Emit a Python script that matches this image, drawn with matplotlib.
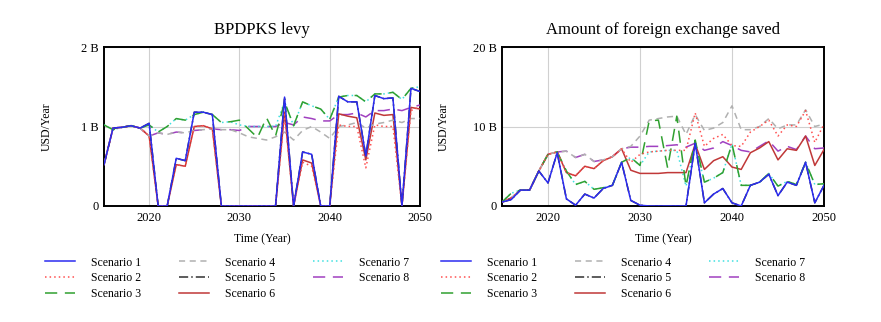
import matplotlib

matplotlib.use("Agg")
import matplotlib.pyplot as plt
import numpy as np

years = np.arange(2015, 2051)

# BPDPKS levy (billion USD/year)
levy_s1 = [0.52, 0.98, 0.99, 1.01, 0.98, 1.04, 0, 0, 0.60, 0.57, 1.18, 1.18, 1.15, 0, 0, 0,
           0, 0, 0, 0, 1.37, 0, 0.68, 0.65, 0, 0, 1.38, 1.31, 1.31, 0.63, 1.39, 1.35, 1.36, 0, 1.48, 1.44]
levy_s2 = [0.52, 0.98, 0.99, 1.01, 0.98, 0.88, 0, 0, 0.52, 0.50, 1.00, 1.01, 0.97, 0, 0, 0,
           0, 0, 0, 0, 1.15, 0, 0.55, 0.50, 0, 0, 1.02, 1.00, 1.00, 0.48, 1.02, 1.00, 1.00, 0, 1.20, 1.25]
levy_s3 = [1.02, 0.96, 0.99, 1.01, 0.98, 1.02, 0.93, 1.00, 1.10, 1.08, 1.15, 1.18, 1.15, 1.05, 1.06, 1.08,
           0.97, 0.86, 1.11, 0.88, 1.31, 1.01, 1.31, 1.26, 1.22, 1.09, 1.37, 1.39, 1.39, 1.31, 1.41, 1.41, 1.43, 1.34, 1.48, 1.50]
levy_s4 = [0.52, 0.98, 0.99, 1.01, 0.98, 0.88, 0.92, 0.90, 0.93, 0.92, 0.95, 0.96, 0.97, 0.96, 0.96, 0.92,
           0.87, 0.85, 0.83, 0.87, 0.93, 0.83, 0.95, 1.00, 0.93, 0.85, 1.00, 1.02, 1.05, 0.98, 1.03, 1.05, 1.08, 1.05, 1.10, 1.10]
levy_s5 = levy_s1
levy_s6 = [0.52, 0.98, 0.99, 1.01, 0.98, 0.88, 0, 0, 0.52, 0.50, 1.00, 1.01, 0.97, 0, 0, 0,
           0, 0, 0, 0, 1.18, 0, 0.58, 0.54, 0, 0, 1.16, 1.13, 1.11, 0.58, 1.17, 1.14, 1.15, 0, 1.24, 1.22]
levy_s7 = [1.02, 0.96, 0.99, 1.01, 0.98, 1.02, 0.93, 1.00, 1.10, 1.08, 1.15, 1.18, 1.15, 1.05, 1.06, 1.02,
           1.00, 1.00, 1.00, 1.00, 1.31, 1.01, 1.31, 1.26, 1.22, 1.09, 1.37, 1.39, 1.39, 1.31, 1.41, 1.41, 1.43, 1.34, 1.48, 1.50]
levy_s8 = [0.52, 0.98, 0.99, 1.01, 0.98, 0.88, 0.92, 0.90, 0.93, 0.92, 0.95, 0.96, 0.97, 0.96, 0.96, 0.95,
           1.00, 1.00, 1.00, 1.00, 1.05, 1.02, 1.12, 1.10, 1.07, 1.07, 1.15, 1.15, 1.17, 1.12, 1.20, 1.20, 1.22, 1.20, 1.24, 1.27]

# Amount of foreign exchange saved (billion USD/year)
fx_s1 = [0.5, 0.8, 2.0, 2.0, 4.4, 2.9, 6.7, 0.9, 0.1, 1.5, 1.0, 2.2, 2.6, 5.5, 0.7, 0.1,
         0, 0, 0, 0, 0, 7.9, 0.4, 1.5, 2.2, 0.4, 0, 2.6, 3.0, 4.0, 1.3, 3.0, 2.6, 5.5, 0.4, 2.6]
fx_s2 = [0.5, 1.0, 2.0, 2.0, 4.4, 6.5, 6.8, 4.2, 3.8, 5.0, 4.7, 5.7, 6.2, 7.2, 5.5, 6.5,
         6.8, 6.9, 7.0, 7.0, 7.0, 11.7, 7.5, 8.5, 9.0, 7.6, 7.5, 9.3, 10.0, 10.8, 8.8, 10.2, 10.0, 12.0, 8.0, 10.3]
fx_s3 = [0.5, 1.6, 2.0, 2.0, 4.4, 6.5, 6.8, 4.4, 2.7, 3.1, 2.1, 2.3, 2.6, 5.5, 6.1, 5.1,
         10.7, 10.8, 4.8, 11.3, 2.5, 8.3, 3.0, 3.5, 4.2, 7.8, 2.6, 2.6, 3.0, 4.1, 2.5, 3.1, 2.7, 5.5, 2.7, 2.8]
fx_s4 = [0.5, 1.0, 2.0, 2.0, 4.4, 6.5, 6.8, 6.9, 6.1, 6.5, 5.6, 5.8, 6.2, 7.2, 7.5, 8.8,
         10.8, 11.0, 11.2, 11.3, 9.0, 11.5, 9.5, 9.8, 10.5, 12.6, 9.6, 9.6, 10.0, 11.0, 9.7, 10.2, 10.2, 12.1, 10.0, 10.3]
fx_s5 = fx_s1
fx_s6 = [0.5, 1.0, 2.0, 2.0, 4.4, 6.5, 6.8, 4.2, 3.8, 5.0, 4.7, 5.7, 6.2, 7.2, 4.5, 4.1,
         4.1, 4.1, 4.2, 4.2, 4.2, 7.8, 4.6, 5.7, 6.2, 4.9, 4.6, 6.7, 7.3, 8.1, 5.8, 7.2, 7.0, 8.8, 5.1, 7.1]
fx_s7 = [0.5, 1.6, 2.0, 2.0, 4.4, 6.5, 6.8, 4.4, 2.7, 3.1, 2.1, 2.3, 2.6, 5.5, 6.1, 5.1,
         6.8, 6.9, 7.0, 7.0, 2.5, 7.8, 3.0, 3.5, 4.2, 7.8, 2.6, 2.6, 3.0, 4.1, 2.5, 3.1, 2.7, 5.5, 2.7, 2.8]
fx_s8 = [0.5, 1.0, 2.0, 2.0, 4.4, 6.5, 6.8, 6.9, 6.1, 6.5, 5.6, 5.8, 6.2, 7.2, 7.4, 7.4,
         7.5, 7.5, 7.6, 7.7, 7.4, 7.9, 7.0, 7.3, 8.1, 7.6, 7.0, 6.8, 7.5, 8.2, 6.9, 7.5, 7.1, 8.8, 7.2, 7.3]

scenario_names = [f"Scenario {i}" for i in range(1, 9)]
levy = [levy_s1, levy_s2, levy_s3, levy_s4, levy_s5, levy_s6, levy_s7, levy_s8]
fx = [fx_s1, fx_s2, fx_s3, fx_s4, fx_s5, fx_s6, fx_s7, fx_s8]

STYLES = [
    dict(color="#2b2bf0", linestyle="-"),
    dict(color="#ff5050", linestyle=(0, (1, 2))),
    dict(color="#30a030", linestyle=(0, (8, 5))),
    dict(color="#b0b0b0", linestyle=(0, (4, 3))),
    dict(color="#303030", linestyle=(0, (6, 2, 1, 2))),
    dict(color="#c03838", linestyle="-"),
    dict(color="#40e0e0", linestyle=(0, (1, 2))),
    dict(color="#a040c0", linestyle=(0, (8, 5))),
]

plt.rcParams.update({
    "font.family": ["Liberation Serif", "DejaVu Serif"],
    "font.size": 9,
})

fig = plt.figure(figsize=(8.81, 3.22), dpi=100)
ax1 = fig.add_axes([104 / 881, 1 - 206 / 322, 316 / 881, 159 / 322])
ax2 = fig.add_axes([502 / 881, 1 - 206 / 322, 322 / 881, 159 / 322])


def draw(ax, series, title, ymax, ticks, ticklabels, legend_x):
    for i, (vals, name, st) in enumerate(zip(series, scenario_names, STYLES)):
        ax.plot(years, vals, label=name, linewidth=1.1, zorder=10 - i, **st)
    ax.set_xlim(2015, 2050)
    ax.set_ylim(0, ymax)
    ax.set_xticks([2020, 2030, 2040, 2050])
    ax.set_yticks(ticks)
    ax.set_yticklabels(ticklabels)
    ax.tick_params(length=0, labelsize=9, pad=4)
    ax.grid(True, color="#d0d0d0", linewidth=0.8)
    ax.set_axisbelow(True)
    for sp in ax.spines.values():
        sp.set_linewidth(1.4)
    ax.set_title(title, fontsize=12, pad=9)
    ax.set_xlabel("Time (Year)", fontsize=8.5, labelpad=7)
    ax.set_ylabel("USD/Year", fontsize=8.5)
    ax.yaxis.set_label_coords(-0.163, 0.5)
    fig.legend(
        *ax.get_legend_handles_labels(),
        loc="upper left",
        bbox_to_anchor=(legend_x, 1 - 246 / 322),
        ncol=3,
        frameon=False,
        fontsize=8.5,
        handlelength=2.6,
        handletextpad=1.3,
        columnspacing=3.2,
        labelspacing=0.3,
    )


draw(ax1, levy, "BPDPKS levy", 2, [0, 1, 2], ["0", "1 B", "2 B"], 34 / 881)
draw(ax2, fx, "Amount of foreign exchange saved", 20, [0, 10, 20], ["0", "10 B", "20 B"], 430 / 881)

fig.savefig("out.png", dpi=100, facecolor="white")
